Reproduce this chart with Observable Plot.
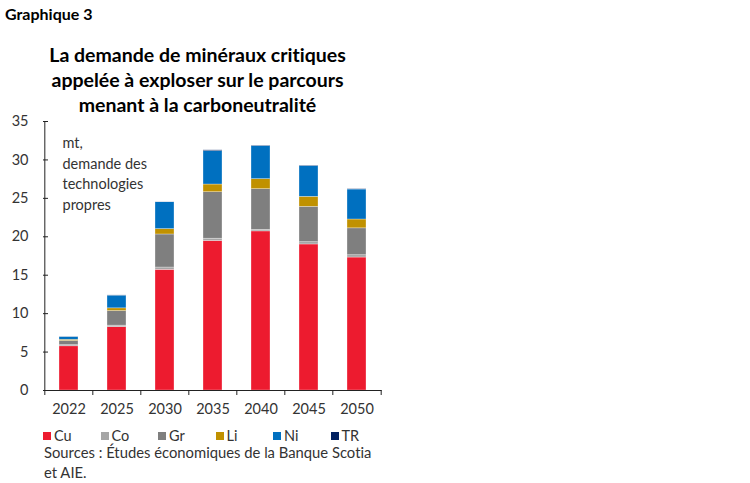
<!DOCTYPE html>
<html>
<head>
<meta charset="utf-8">
<script src="https://cdn.jsdelivr.net/npm/d3@7"></script>
<script src="https://cdn.jsdelivr.net/npm/@observablehq/plot@0.6"></script>
<style>
  html, body { margin: 0; padding: 0; background: #fff; }
  body { width: 750px; height: 483px; position: relative; font-family: Lato, "Open Sans", sans-serif; color: #333; font-variant-ligatures: none; }
  #kicker { position: absolute; left: 5px; top: 4px; font-weight: bold; font-size: 16px; color: #000; }
  #title { position: absolute; left: 0; width: 395px; top: 42px; text-align: center; font-weight: bold; font-size: 19.5px; line-height: 25px; color: #000; }
  #chart { position: absolute; left: 0; top: 112px; }
  #legend { position: absolute; left: 43px; top: 427px; display: flex; font-size: 14.5px; }
  #legend .item { width: 57.5px; display: flex; align-items: center; }
  #legend .sw { width: 8px; height: 8px; margin-right: 3px; }
  #source { position: absolute; left: 44px; top: 442px; width: 330px; font-size: 14.8px; line-height: 20px; color: #333; }
</style>
</head>
<body>
<div id="kicker">Graphique 3</div>
<div id="title">La demande de minéraux critiques<br>appelée à exploser sur le parcours<br>menant à la carboneutralité</div>
<div id="chart"></div>
<div id="legend"></div>
<div id="source">Sources : Études économiques de la Banque Scotia et AIE.</div>
<script>
const years = ["2022", "2025", "2030", "2035", "2040", "2045", "2050"];
const minerals = ["Cu", "Co", "Gr", "Li", "Ni", "TR"];
const colors = ["#ED1B2F", "#A6A6A6", "#7F7F7F", "#C09100", "#0070C0", "#002060"];
const cu = [5.75, 8.24, 15.7, 19.45, 20.7, 19.0, 17.3];
const co = [0.15, 0.2, 0.3, 0.3, 0.2, 0.3, 0.3];
const gr = [0.55, 1.9, 4.3, 6.05, 5.3, 4.6, 3.5];
const li = [0.15, 0.35, 0.7, 1.0, 1.3, 1.3, 1.15];
const ni = [0.35, 1.65, 3.5, 4.35, 4.3, 4.0, 3.9];
const tr = [0.02, 0.03, 0.05, 0.1, 0.05, 0.05, 0.05];
const yTicks = [0, 5, 10, 15, 20, 25, 30, 35];
const note = "mt,\ndemande des\ntechnologies\npropres";

const series = [cu, co, gr, li, ni, tr];
const data = [];
years.forEach((yr, i) => {
  minerals.forEach((m, j) => data.push({year: yr, mineral: m, value: series[j][i]}));
});

const W = 390, H = 308, mL = 43, mR = 8.5, mT = 9, mB = 30;
const step = (W - mL - mR) / years.length;

const chart = Plot.plot({
  width: W, height: H,
  marginLeft: mL, marginRight: mR, marginTop: mT, marginBottom: mB,
  style: {fontFamily: "Lato, 'Open Sans', sans-serif", fontSize: "14.5px", color: "#333", background: "#fff"},
  x: {domain: years, paddingInner: 0.6, paddingOuter: 0.3, label: null},
  y: {domain: [0, 35], label: null},
  color: {domain: minerals, range: colors},
  marks: [
    Plot.barY(data, {x: "year", y: "value", fill: "mineral", order: minerals, stroke: "#fff", strokeOpacity: 0.5, strokeWidth: 0.6}),
    Plot.ruleY([0], {stroke: "#222", strokeWidth: 1}),
    Plot.ruleX([years[0]], {stroke: "#222", strokeWidth: 1, dx: -step / 2}),
    Plot.ruleY(yTicks, {y: d => d, stroke: "#222", insetRight: (W - mL - mR) - 5}),
    Plot.ruleX(years, {x: d => d, y1: d => 0, y2: d => 0, dx: -step / 2, insetBottom: -5, stroke: "#222"}),
    Plot.ruleX([years[years.length - 1]], {x: d => d, y1: d => 0, y2: d => 0, dx: step / 2, insetBottom: -5, stroke: "#222"}),
    Plot.axisY({ticks: yTicks, tickSize: 0, tickPadding: 15, fontSize: 14.5, fill: "#333"}),
    Plot.axisX({tickSize: 0, tickPadding: 13, fontSize: 14.5, fill: "#333"}),
    Plot.text([note], {text: d => d, frameAnchor: "top-left", dx: 19, dy: 12, textAnchor: "start", lineAnchor: "top", lineHeight: 1.42, fontSize: 14.5, fill: "#333"})
  ]
});
document.getElementById("chart").appendChild(chart);

const legend = document.getElementById("legend");
minerals.forEach((m, j) => {
  const it = document.createElement("div");
  it.className = "item";
  const sw = document.createElement("span");
  sw.className = "sw";
  sw.style.background = colors[j];
  it.appendChild(sw);
  it.appendChild(document.createTextNode(m));
  legend.appendChild(it);
});
</script>
</body>
</html>
